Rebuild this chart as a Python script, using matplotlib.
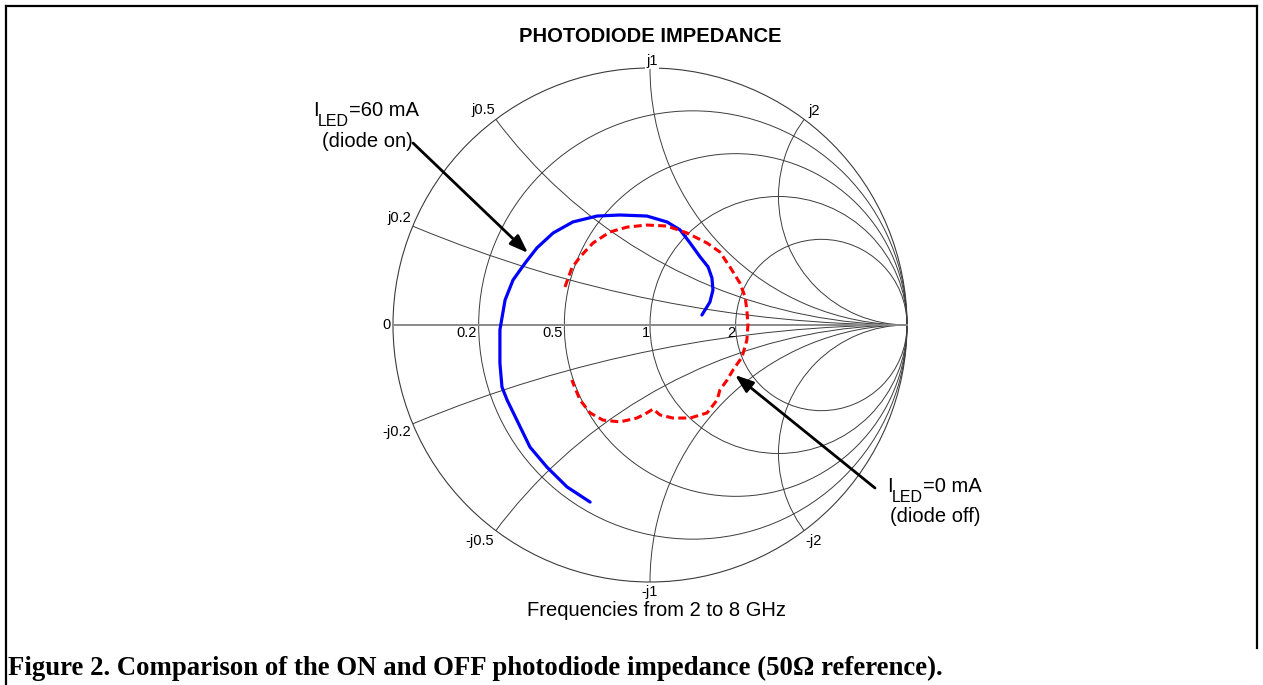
import numpy as np
import matplotlib
matplotlib.use("Agg")
import matplotlib.pyplot as plt
from matplotlib.patches import Circle, Arc
from matplotlib.lines import Line2D

# ---------------- data (reflection coefficient) ----------------
# I_LED = 60 mA (diode on), 2 -> 8 GHz
on_re = [-0.233, -0.323, -0.401, -0.467, -0.518, -0.556, -0.576, -0.584, -0.584,
         -0.564, -0.533, -0.486, -0.440, -0.377, -0.300, -0.206, -0.117, -0.012,
         0.066, 0.117, 0.156, 0.195, 0.226, 0.241, 0.245, 0.233, 0.202]
on_im = [-0.689, -0.630, -0.553, -0.475, -0.370, -0.292, -0.241, -0.148, -0.019,
         0.097, 0.175, 0.241, 0.300, 0.358, 0.401, 0.424, 0.428, 0.424,
         0.401, 0.370, 0.319, 0.265, 0.226, 0.183, 0.136, 0.089, 0.039]
# I_LED = 0 mA (diode off)
off_re = [-0.331, -0.304, -0.272, -0.222, -0.156, -0.089, -0.012, 0.066, 0.144,
          0.222, 0.272, 0.311, 0.350, 0.370, 0.377, 0.381, 0.377, 0.358, 0.323,
          0.300, 0.272, 0.261, 0.222, 0.156, 0.089, 0.039, 0.012, -0.012, -0.051,
          -0.117, -0.183, -0.233, -0.272, -0.292, -0.304]
off_im = [0.148, 0.222, 0.265, 0.319, 0.362, 0.381, 0.389, 0.385, 0.358,
          0.319, 0.284, 0.226, 0.163, 0.109, 0.058, 0.000, -0.058, -0.125, -0.175,
          -0.214, -0.253, -0.292, -0.342, -0.362, -0.362, -0.350, -0.327, -0.342, -0.362,
          -0.377, -0.370, -0.342, -0.292, -0.245, -0.214]

r_values = [0.2, 0.5, 1, 2]
x_values = [0.2, 0.5, 1, 2]
r_labels = ["0", "0.2", "0.5", "1", "2"]
x_labels_pos = ["j0.2", "j0.5", "j1", "j2"]
x_labels_neg = ["-j0.2", "-j0.5", "-j1", "-j2"]

title = "PHOTODIODE IMPEDANCE"
subtitle = "Frequencies from 2 to 8 GHz"
caption = "Figure 2. Comparison of the ON and OFF photodiode impedance (50\u03a9 reference)."

# ---------------- figure ----------------
W, H = 1263, 685
CX, CY, R = 650.0, 325.0, 257.0
fig = plt.figure(figsize=(W / 100, H / 100), dpi=100)
ax = fig.add_axes([0, 0, 1, 1])
ax.set_xlim((0 - CX) / R, (W - CX) / R)
ax.set_ylim((CY - H) / R, CY / R)
ax.axis("off")


def P(x, y):
    return ((x - CX) / R, (CY - y) / R)


SANS = ["Liberation Sans", "DejaVu Sans"]
SERIF = ["Liberation Serif", "DejaVu Serif"]
gcol = "#3c3c3c"
glw = 0.7

outer = Circle((0, 0), 1, fill=False, ec=gcol, lw=0.8, zorder=2)
ax.add_patch(outer)
clip = Circle((0, 0), 1, transform=ax.transData)

for r in r_values:
    c = Circle((r / (1 + r), 0), 1 / (1 + r), fill=False, ec=gcol, lw=glw, zorder=2)
    ax.add_patch(c)

for x in x_values:
    for s in (1, -1):
        a = Arc((1, s / x), 2 / x, 2 / x, fill=False, ec=gcol, lw=glw, zorder=2)
        a.set_clip_path(clip)
        ax.add_patch(a)

ax.plot([-1, 1], [0, 0], color="#8a8a8a", lw=1.4, zorder=2)

# resistance labels
r_pos = [(387, 325), (467, 333), (553, 333), (646, 333), (731, 333)]
for lab, (px, py) in zip(r_labels, r_pos):
    ax.text(*P(px, py), lab, family=SANS, fontsize=10.5, ha="center", va="center", zorder=4)

pos_xy = [(399, 218), (483, 110), (652, 61), (814, 111)]
neg_xy = [(397, 432), (480, 541), (650, 592), (814, 541)]
for lab, (px, py) in zip(x_labels_pos, pos_xy):
    bb = dict(fc="white", ec="none", pad=1) if lab == "j1" else None
    ax.text(*P(px, py), lab, family=SANS, fontsize=10.5, ha="center", va="center", zorder=4, bbox=bb)
for lab, (px, py) in zip(x_labels_neg, neg_xy):
    ax.text(*P(px, py), lab, family=SANS, fontsize=10.5, ha="center", va="center", zorder=4)

# data curves
ax.plot(on_re, on_im, color="#0000ff", lw=2.3, solid_capstyle="round",
        solid_joinstyle="round", zorder=5)
ax.plot(off_re, off_im, color="#ff0000", lw=2.2, dashes=(2.6, 1.4), zorder=5)

# arrows
aprops = dict(arrowstyle="-|>,head_length=0.55,head_width=0.2", color="black", lw=2.0,
              mutation_scale=20, shrinkA=0, shrinkB=0)
ax.annotate("", xy=P(528, 253), xytext=P(413, 143), arrowprops=aprops, zorder=6)
ax.annotate("", xy=P(735, 375), xytext=P(875, 488), arrowprops=aprops, zorder=6)

# annotation texts
def led_label(x, y, rest):
    ax.text(*P(x, y), "I", family=SANS, fontsize=14.5, ha="left", va="baseline")
    ax.text(*P(x + 5, y + 10), "LED", family=SANS, fontsize=11.5, ha="left", va="baseline")
    ax.text(*P(x + 36, y), rest, family=SANS, fontsize=14.5, ha="left", va="baseline")

led_label(313, 116, "=60 mA")
ax.text(*P(322, 147), "(diode on)", family=SANS, fontsize=14.5, ha="left", va="baseline")
led_label(887, 492, "=0 mA")
ax.text(*P(890, 522), "(diode off)", family=SANS, fontsize=14.5, ha="left", va="baseline")

ax.text(*P(650, 37), title, family=SANS, fontsize=14.5, fontweight="bold", ha="center", va="center")
ax.text(*P(657, 611), subtitle, family=SANS, fontsize=14.5, ha="center", va="center")
fig.text(8 / W, 1 - 668 / H, caption, family=SERIF, fontsize=19.3, fontweight="bold",
         ha="left", va="center")

# frame
def fline(x0, y0, x1, y1):
    fig.add_artist(Line2D([x0 / W, x1 / W], [1 - y0 / H, 1 - y1 / H], color="black", lw=1.6,
                          transform=fig.transFigure))

fline(6, 6, 1257, 6)
fline(6, 6, 6, 685)
fline(1257, 6, 1257, 648)

fig.savefig("out.png", dpi=100)
